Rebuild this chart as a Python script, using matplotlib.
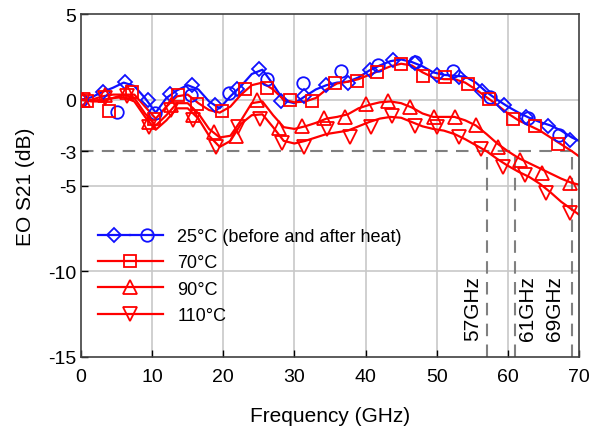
import matplotlib
matplotlib.use("Agg")
import matplotlib.pyplot as plt
from matplotlib.lines import Line2D
from matplotlib.legend_handler import HandlerTuple

plt.rcParams['font.family'] = ['Liberation Sans', 'DejaVu Sans']
plt.rcParams['axes.unicode_minus'] = False

# smooth fitted curves (frequency in GHz, response in dB)
fit_f = [0, 1.5, 3, 4.5, 6, 7.5, 9, 10.5, 12, 13.5, 15, 16.5, 18, 19.5, 21, 22.5,
         24, 25.5, 27, 28.5, 30, 31.5, 33, 34.5, 36, 37.5, 39, 40.5, 42, 43.5, 45,
         46.5, 48, 49.5, 51, 52.5, 54, 55.5, 57, 58.5, 60, 61.5, 63, 64.5, 66, 67.5,
         69, 70]
fit_25 = [0, 0.15, 0.45, 0.7, 1.0, 0.8, 0.1, -0.75, 0.1, 0.55, 0.85, 0.6, -0.1, -0.5,
          0.2, 0.8, 1.5, 1.75, 0.9, -0.05, -0.2, 0.2, 0.6, 0.85, 1.0, 1.05, 1.3, 1.7,
          2.0, 2.25, 2.35, 2.2, 1.95, 1.6, 1.45, 1.4, 1.35, 1.0, 0.45, 0.0, -0.4,
          -0.75, -1.05, -1.3, -1.5, -1.8, -2.2, -2.4]
fit_70 = [0, -0.1, -0.1, 0.1, 0.3, 0.3, -0.4, -1.1, -0.4, 0.2, 0.3, -0.2, -0.6, -0.75,
          -0.4, 0.3, 0.85, 1.0, 0.6, 0.0, -0.15, -0.1, 0.1, 0.6, 0.95, 1.05, 1.2, 1.45,
          1.7, 1.95, 2.1, 2.0, 1.6, 1.3, 1.2, 1.2, 1.0, 0.6, 0.15, -0.3, -0.8, -1.2,
          -1.5, -1.8, -2.2, -2.6, -3.0, -3.3]
fit_90 = [0, 0.0, 0.2, 0.3, 0.3, 0.1, -0.8, -1.5, -0.9, -0.2, -0.2, -0.8, -1.7, -2.2,
          -2.1, -1.2, -0.2, -0.1, -0.9, -1.6, -1.7, -1.55, -1.35, -1.1, -1.0, -0.85,
          -0.5, -0.3, -0.15, -0.1, -0.2, -0.45, -0.8, -1.0, -1.0, -1.0, -1.2, -1.5,
          -2.0, -2.55, -3.0, -3.4, -3.7, -4.0, -4.3, -4.6, -4.85, -4.95]
fit_110 = [0, -0.05, 0.0, 0.1, 0.15, -0.1, -1.0, -1.75, -1.2, -0.5, -0.5, -1.1, -2.1,
           -2.75, -2.4, -1.4, -0.9, -0.85, -1.6, -2.4, -2.55, -2.4, -2.2, -2.0, -1.9,
           -1.8, -1.55, -1.3, -1.1, -1.0, -1.05, -1.3, -1.55, -1.7, -1.8, -2.0, -2.3,
           -2.65, -3.0, -3.45, -3.85, -4.2, -4.5, -4.9, -5.4, -5.95, -6.4, -6.7]

# measured points
f_25b = [0, 3.1, 6.2, 9.4, 12.5, 15.6, 18.8, 21.9, 25.0, 28.1, 31.3, 34.4, 37.5, 40.6,
         43.8, 46.9, 50.0, 53.1, 56.3, 59.4, 62.5, 65.6, 68.8]
db_25b = [0, 0.45, 1.05, 0.0, 0.35, 0.85, -0.3, 0.6, 1.8, -0.1, 0.2, 0.85, 1.0, 1.75,
          2.3, 2.15, 1.45, 1.35, 0.5, -0.3, -1.0, -1.55, -2.35]
f_25a = [0, 5.1, 10.4, 15.5, 20.8, 26.1, 31.2, 36.6, 41.7, 46.9, 52.3, 57.5, 62.8, 67.2]
db_25a = [0, -0.7, -0.75, 0.25, 0.4, 1.2, 1.0, 1.7, 2.05, 2.2, 1.7, 0.15, -1.05, -2.05]
f_70 = [0.8, 4.0, 7.2, 10.3, 13.6, 16.3, 19.8, 23.0, 26.1, 29.4, 32.5, 35.7, 38.8,
        41.6, 45.0, 48.1, 51.2, 54.4, 57.4, 60.7, 63.8, 67.0]
db_70 = [-0.1, -0.65, 0.45, -1.1, 0.3, -0.25, -0.65, 0.6, 0.7, 0.0, -0.05, 1.0, 1.1,
         1.6, 2.1, 1.4, 1.35, 0.9, 0.05, -1.15, -1.55, -2.6]
f_90 = [0.3, 3.4, 6.5, 9.6, 12.7, 15.8, 18.7, 21.8, 24.8, 27.9, 31.0, 34.1, 37.1, 40.1,
        43.2, 46.2, 49.6, 52.5, 55.5, 58.6, 61.7, 64.8, 68.7]
db_90 = [0.0, 0.3, 0.45, -1.3, -0.3, -0.9, -1.9, -2.1, 0.0, -1.65, -1.55, -1.05, -1.0,
         -0.25, -0.05, -0.45, -1.0, -1.0, -1.5, -2.75, -3.5, -4.25, -4.85]
f_110 = [0.3, 3.4, 6.5, 9.6, 12.7, 15.8, 19.0, 22.0, 25.2, 28.2, 31.4, 34.6, 37.8,
         40.7, 43.7, 46.9, 50.0, 53.1, 56.2, 59.3, 62.4, 65.4, 68.7]
db_110 = [0.0, 0.1, 0.2, -1.6, -0.6, -1.2, -2.75, -1.6, -1.1, -2.5, -2.75, -1.7, -2.2,
          -1.6, -0.95, -1.55, -1.6, -2.2, -2.85, -3.95, -4.4, -5.45, -6.6]

cutoff_f = [57, 61, 69]
cutoff_labels = ['57GHz', '61GHz', '69GHz']
label_x = [55.1, 62.8, 66.6]

blue = '#1010ff'
red = '#ff0000'

fig = plt.figure(figsize=(5.9, 4.31), dpi=100)
ax = fig.add_axes([81 / 590, 73 / 431, 498 / 590, 343 / 431])

ax.set_xlim(0, 70)
ax.set_ylim(-15, 5)
ax.set_xticks(range(0, 71, 10))
ax.set_yticks([5, 0, -3, -5, -10, -15])

for x in range(10, 70, 10):
    ax.axvline(x, color='#c8c8c8', lw=1.2, zorder=0)
for y in [0, -5, -10]:
    ax.axhline(y, color='#c8c8c8', lw=1.2, zorder=0)

dash = (0, (6, 4))
ax.axhline(-3, color='#808080', lw=1.5, ls=dash, zorder=1)
for x in cutoff_f:
    ax.plot([x, x], [-15, -3], color='#808080', lw=1.5, ls=dash, zorder=1)
for x, t in zip(label_x, cutoff_labels):
    ax.text(x, -14.0, t, rotation=90, ha='center', va='bottom', fontsize=15)

mk = dict(mfc='none', mew=1.3, ls='none', zorder=3)
ax.plot(fit_f, fit_25, color=blue, lw=1.6, zorder=2)
ax.plot(f_25b, db_25b, marker='D', ms=7, color=blue, **mk)
ax.plot(f_25a, db_25a, marker='o', ms=9, color=blue, **mk)
ax.plot(fit_f, fit_70, color=red, lw=1.6, zorder=2)
ax.plot(f_70, db_70, marker='s', ms=9, color=red, **mk)
ax.plot(fit_f, fit_90, color=red, lw=1.6, zorder=2)
ax.plot(f_90, db_90, marker='^', ms=10, color=red, **mk)
ax.plot(fit_f, fit_110, color=red, lw=1.6, zorder=2)
ax.plot(f_110, db_110, marker='v', ms=10, color=red, **mk)

ax.tick_params(direction='in', length=5, labelsize=14, width=1)
ax.tick_params(axis='x', pad=8)
for s in ax.spines.values():
    s.set_color('#404040')
    s.set_linewidth(1.2)

ax.set_xlabel('Frequency (GHz)', fontsize=15, labelpad=15)
ax.set_ylabel('EO S21 (dB)', fontsize=15, labelpad=9)

lk = dict(mfc='none', mew=1.3, lw=1.6)
h25 = (Line2D([], [], color=blue, marker='D', ms=7, **lk),
       Line2D([], [], color=blue, marker='o', ms=9, **lk))
h70 = Line2D([], [], color=red, marker='s', ms=9, **lk)
h90 = Line2D([], [], color=red, marker='^', ms=10, **lk)
h110 = Line2D([], [], color=red, marker='v', ms=10, **lk)
ax.legend([h25, h70, h90, h110],
          ['25\u00b0C (before and after heat)', '70\u00b0C', '90\u00b0C', '110\u00b0C'],
          handler_map={tuple: HandlerTuple(ndivide=None, pad=0)},
          loc='upper left', bbox_to_anchor=(0.034, 0.376), frameon=False,
          fontsize=13, numpoints=1, handlelength=3.6, handletextpad=0.8,
          labelspacing=0.52, borderpad=0, borderaxespad=0)

fig.savefig('out.png', dpi=100)
